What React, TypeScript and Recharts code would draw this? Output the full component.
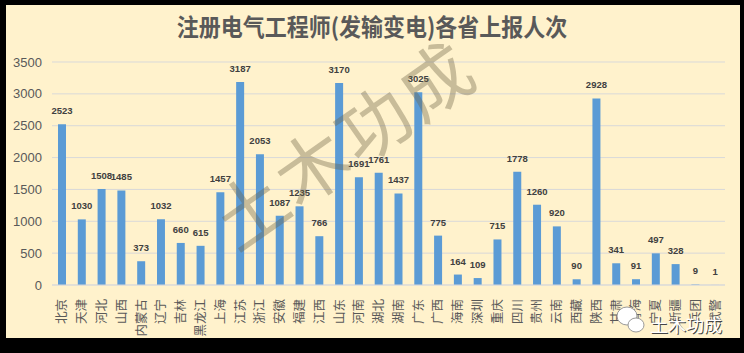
import React from "react";
import { BarChart, Bar, XAxis, YAxis, CartesianGrid, LabelList } from "recharts";

const provinces = [
  "北京", "天津", "河北", "山西", "内蒙古", "辽宁", "吉林", "黑龙江", "上海", "江苏",
  "浙江", "安徽", "福建", "江西", "山东", "河南", "湖北", "湖南", "广东", "广西",
  "海南", "深圳", "重庆", "四川", "贵州", "云南", "西藏", "陕西", "甘肃", "青海",
  "宁夏", "新疆", "兵团", "武警",
];

const reportCounts = [
  2523, 1030, 1508, 1485, 373, 1032, 660, 615, 1457, 3187,
  2053, 1087, 1235, 766, 3170, 1691, 1761, 1437, 3025, 775,
  164, 109, 715, 1778, 1260, 920, 90, 2928, 341, 91,
  497, 328, 9, 1,
];

const yTicks = [0, 500, 1000, 1500, 2000, 2500, 3000, 3500];

const TITLE = "注册电气工程师(发输变电)各省上报人次";
const WATERMARK = "土木功成";

const CJK = "'Noto Sans CJK SC', 'Noto Sans', sans-serif";
const LATIN = "'Liberation Sans', Arial, sans-serif";

function VerticalTick({ x, y, payload }: { x?: number; y?: number; payload?: { value: string } }) {
  if (x == null || y == null || !payload) return null;
  return (
    <text
      transform={`translate(${x},${y}) rotate(-90)`}
      textAnchor="end"
      dy="0.36em"
      fontSize={12.5}
      fill="#595959"
      fontFamily={CJK}
    >
      {payload.value}
    </text>
  );
}

export default function App() {
  const data = provinces.map((name, i) => ({ name, count: reportCounts[i] }));

  return (
    <div style={{ position: "absolute", left: 0, top: 0, width: 744, height: 353, background: "#000" }}>
      <div style={{ position: "absolute", left: 6, top: 5, width: 734, height: 333, background: "#FFF2CC" }} />
      <div style={{ position: "absolute", left: 0, top: 0 }}>
        <BarChart
          width={744}
          height={353}
          data={data}
          margin={{ top: 62, right: 19, left: 8, bottom: 18 }}
          barSize={8}
        >
          <CartesianGrid horizontal vertical={false} stroke="#D9D9D9" />
          <XAxis
            dataKey="name"
            interval={0}
            height={50}
            tickLine={false}
            tickMargin={8}
            axisLine={{ stroke: "#D9D9D9" }}
            tick={<VerticalTick />}
          />
          <YAxis
            domain={[0, 3500]}
            ticks={yTicks}
            width={44}
            axisLine={false}
            tickLine={false}
            tickMargin={4}
            tick={{ fontSize: 13, fill: "#595959", fontFamily: LATIN }}
          />
          <Bar dataKey="count" fill="#5B9BD5" isAnimationActive={false}>
            <LabelList
              dataKey="count"
              position="top"
              offset={10}
              fontSize={9.5}
              fontWeight="bold"
              fill="#404040"
              fontFamily={LATIN}
            />
          </Bar>
        </BarChart>
      </div>
      <svg
        width={744}
        height={353}
        style={{ position: "absolute", left: 0, top: 0, pointerEvents: "none" }}
      >
        <text
          transform="translate(372,36) scale(1,1.1)"
          textAnchor="middle"
          fontSize={22}
          fontWeight="bold"
          fill="#595959"
          fontFamily={CJK}
        >
          {TITLE}
        </text>
        <text
          transform="translate(345,146) rotate(-35)"
          textAnchor="middle"
          dy="0.35em"
          fontSize={72}
          letterSpacing={3}
          fill="rgba(110,100,70,0.38)"
          fontFamily={CJK}
        >
          {WATERMARK}
        </text>
        <ellipse cx={627} cy={316} rx={10} ry={9} fill="#fff" stroke="#9a9a9a" strokeWidth={1} />
        <ellipse cx={636} cy={325} rx={8} ry={7} fill="#fff" stroke="#9a9a9a" strokeWidth={1} />
        <text x={686} y={332} textAnchor="middle" fontSize={18} fill="#444" fontFamily={CJK} dx={1} dy={1}>
          {WATERMARK}
        </text>
        <text x={686} y={332} textAnchor="middle" fontSize={18} fill="#fff" fontFamily={CJK}>
          {WATERMARK}
        </text>
      </svg>
    </div>
  );
}
